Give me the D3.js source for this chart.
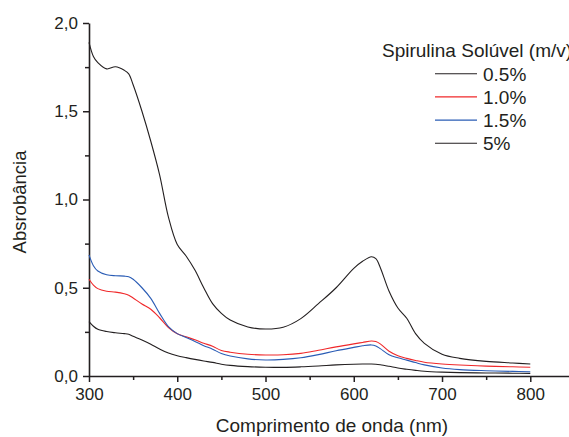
<!DOCTYPE html>
<html>
<head>
<meta charset="utf-8">
<script src="https://cdn.jsdelivr.net/npm/d3@7"></script>
<style>
  body { margin: 0; background: #fff; }
  svg { display: block; font-family: Arial, 'Liberation Sans', sans-serif; }
  .axis path, .axis line { stroke: #231f20; }
  .axis text { fill: #231f20; font-size: 17px; }
</style>
</head>
<body>
<div id="chart"></div>
<script>
'use strict'

// Data
const wavelengths = [300, 305, 310, 320, 330, 340, 345, 350, 360, 370, 380, 390, 400, 410, 420, 430, 440, 450, 460, 480, 500, 520, 540, 560, 580, 600, 610, 620, 625, 630, 640, 650, 660, 670, 680, 700, 720, 750, 780, 800]

const conc05 = [0.308, 0.282, 0.265, 0.252, 0.245, 0.24, 0.236, 0.225, 0.204, 0.18, 0.153, 0.13, 0.115, 0.104, 0.094, 0.085, 0.077, 0.067, 0.06, 0.053, 0.05, 0.049, 0.052, 0.057, 0.063, 0.067, 0.068, 0.068, 0.067, 0.064, 0.055, 0.045, 0.038, 0.032, 0.027, 0.022, 0.019, 0.017, 0.016, 0.015]
const conc10 = [0.548, 0.515, 0.495, 0.48, 0.475, 0.466, 0.458, 0.442, 0.408, 0.378, 0.33, 0.275, 0.24, 0.222, 0.205, 0.186, 0.168, 0.145, 0.135, 0.123, 0.119, 0.12, 0.128, 0.146, 0.165, 0.182, 0.19, 0.198, 0.195, 0.182, 0.14, 0.115, 0.1, 0.088, 0.078, 0.068, 0.062, 0.056, 0.052, 0.05]
const conc15 = [0.686, 0.625, 0.595, 0.574, 0.568, 0.566, 0.562, 0.548, 0.5, 0.44, 0.355, 0.28, 0.24, 0.218, 0.196, 0.172, 0.152, 0.127, 0.113, 0.097, 0.091, 0.094, 0.103, 0.121, 0.143, 0.162, 0.171, 0.176, 0.17, 0.155, 0.12, 0.103, 0.09, 0.076, 0.063, 0.045, 0.036, 0.03, 0.026, 0.024]
const conc5 = [1.89, 1.81, 1.775, 1.74, 1.752, 1.732, 1.712, 1.65, 1.5, 1.33, 1.14, 0.9, 0.745, 0.68, 0.6, 0.5, 0.41, 0.355, 0.317, 0.278, 0.266, 0.276, 0.325, 0.41, 0.5, 0.61, 0.65, 0.676, 0.665, 0.615, 0.48, 0.385, 0.327, 0.24, 0.185, 0.123, 0.1, 0.083, 0.074, 0.068]

const seriesNames = ['0.5%', '1.0%', '1.5%', '5%']
const seriesValues = [conc05, conc10, conc15, conc5]
const seriesColors = ['#231f20', '#f0282a', '#2a5cb5', '#231f20']

const xTicks = [300, 400, 500, 600, 700, 800]
const xMinorTicks = [350, 450, 550, 650, 750]
const yTicks = [0, 0.5, 1, 1.5, 2]
const yMinorTicks = [0.25, 0.75, 1.25, 1.75]

const legendTitle = 'Spirulina Solúvel (m/v)'
const xLabel = 'Comprimento de onda (nm)'
const yLabel = 'Absrobância'

// Dimensions
const dimensions = {
  width: 569,
  height: 437,
  left: 89,
  top: 23,
  bottom: 376,
  right: 570,
}

const svg = d3
  .select('#chart')
  .append('svg')
  .attr('width', dimensions.width)
  .attr('height', dimensions.height)

// Scales
const xScale = d3.scaleLinear().domain([300, 845]).range([dimensions.left, dimensions.right])
const yScale = d3.scaleLinear().domain([0, 2]).range([dimensions.bottom, dimensions.top])

const ptLocale = d3.formatLocale({ decimal: ',', thousands: '.', grouping: [3], currency: ['', ''] })
const yFormat = ptLocale.format('.1f')

// Minor ticks
svg
  .append('g')
  .attr('class', 'axis')
  .attr('transform', `translate(0, ${dimensions.bottom})`)
  .call(d3.axisBottom(xScale).tickValues(xMinorTicks).tickSize(4).tickFormat(''))
  .call((g) => g.select('.domain').remove())
  .selectAll('line')
  .attr('stroke-width', 1.5)

svg
  .append('g')
  .attr('class', 'axis')
  .attr('transform', `translate(${dimensions.left}, 0)`)
  .call(d3.axisLeft(yScale).tickValues(yMinorTicks).tickSize(4).tickFormat(''))
  .call((g) => g.select('.domain').remove())
  .selectAll('line')
  .attr('stroke-width', 1.5)

// X axis
const xAxisGroup = svg
  .append('g')
  .attr('class', 'axis')
  .attr('transform', `translate(0, ${dimensions.bottom})`)
  .call(d3.axisBottom(xScale).tickValues(xTicks).tickSize(6).tickSizeOuter(0).tickPadding(6))

xAxisGroup.select('.domain').attr('stroke-width', 1.6)
xAxisGroup.selectAll('.tick line').attr('stroke-width', 1.5)
xAxisGroup.selectAll('text').style('font-family', 'Arial, "Liberation Sans", sans-serif')

// Y axis
const yAxisGroup = svg
  .append('g')
  .attr('class', 'axis')
  .attr('transform', `translate(${dimensions.left}, 0)`)
  .call(d3.axisLeft(yScale).tickValues(yTicks).tickSize(6).tickSizeOuter(0).tickPadding(5).tickFormat(yFormat))

yAxisGroup.select('.domain').attr('stroke-width', 1.6)
yAxisGroup.selectAll('.tick line').attr('stroke-width', 1.5)
yAxisGroup.selectAll('text').style('font-family', 'Arial, "Liberation Sans", sans-serif')

// Axis titles
svg
  .append('text')
  .attr('x', 332)
  .attr('y', 432)
  .attr('text-anchor', 'middle')
  .attr('fill', '#231f20')
  .style('font-size', '19px')
  .text(xLabel)

svg
  .append('text')
  .attr('transform', `translate(26, 202) rotate(-90)`)
  .attr('text-anchor', 'middle')
  .attr('fill', '#231f20')
  .style('font-size', '18.5px')
  .text(yLabel)

// Lines
const line = d3
  .line()
  .x((d) => xScale(d[0]))
  .y((d) => yScale(d[1]))
  .curve(d3.curveCatmullRom.alpha(0.5))

svg
  .append('g')
  .selectAll('path')
  .data(seriesValues)
  .join('path')
  .attr('d', (values) => line(wavelengths.map((w, i) => [w, values[i]])))
  .attr('fill', 'none')
  .attr('stroke', (d, i) => seriesColors[i])
  .attr('stroke-width', 1.1)

// Legend
const legend = svg.append('g').attr('transform', 'translate(382, 0)')

legend
  .append('text')
  .attr('x', 0)
  .attr('y', 57)
  .attr('fill', '#231f20')
  .style('font-size', '19px')
  .text(legendTitle)

const legendRows = legend
  .selectAll('g.row')
  .data(seriesNames)
  .join('g')
  .attr('class', 'row')
  .attr('transform', (d, i) => `translate(0, ${73.7 + i * 23.2})`)

legendRows
  .append('line')
  .attr('x1', 53)
  .attr('x2', 95)
  .attr('stroke', (d, i) => seriesColors[i])
  .attr('stroke-width', 1.1)

legendRows
  .append('text')
  .attr('x', 101)
  .attr('y', 7)
  .attr('fill', '#231f20')
  .style('font-size', '19px')
  .text((d) => d)
</script>
</body>
</html>
